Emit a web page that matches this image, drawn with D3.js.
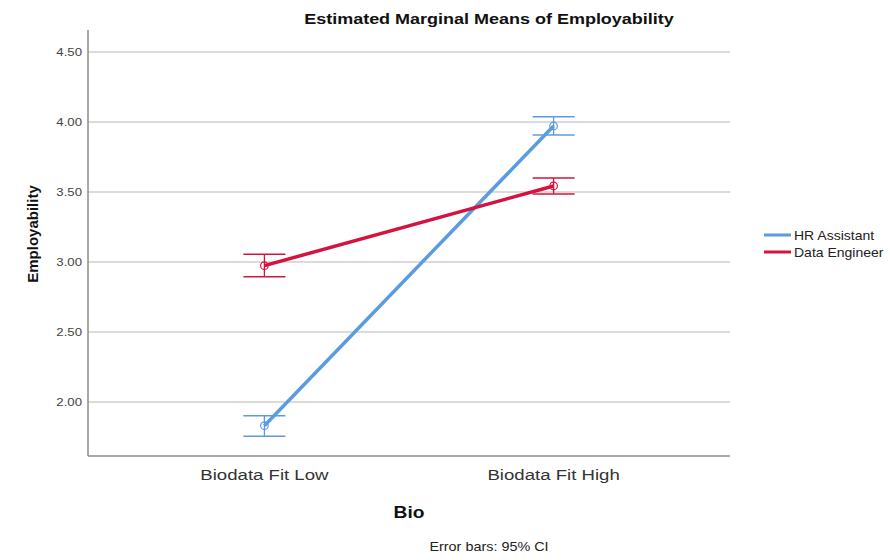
<!DOCTYPE html>
<html>
<head>
<meta charset="utf-8">
<script src="https://cdn.jsdelivr.net/npm/d3@7"></script>
<style>
  body { margin: 0; background: #fff; }
  text { font-family: "Liberation Sans", Arial, sans-serif; }
</style>
</head>
<body>
<script>
// values
var categories = ["Biodata Fit Low", "Biodata Fit High"];
var seriesNames = ["HR Assistant", "Data Engineer"];
var hrMean = [1.831, 3.972];
var hrLow = [1.755, 3.907];
var hrHigh = [1.902, 4.038];
var deMean = [2.974, 3.543];
var deLow = [2.895, 3.486];
var deHigh = [3.055, 3.600];
var yTicks = [2.0, 2.5, 3.0, 3.5, 4.0, 4.5];
var colors = ["#5b9be0", "#d2143f"];

var width = 890, height = 560;
var plotLeft = 88, plotRight = 730, plotTop = 30, plotBottom = 456;
var sx = 1.2; // text in the reference is a bit wide

var svg = d3.select("body").append("svg")
    .attr("width", width)
    .attr("height", height);

var x = d3.scalePoint()
    .domain(categories)
    .range([plotLeft, plotRight])
    .padding(0.61);

var y = d3.scaleLinear()
    .domain([2 - 54 / 140, 2 + 372 / 140])
    .range([plotBottom, plotTop]);

function wideText(px, py, k) {
    return "translate(" + px + "," + py + ") scale(" + (k || sx) + ",1)";
}

// gridlines
svg.selectAll("line.grid")
    .data(yTicks)
    .enter().append("line")
    .attr("class", "grid")
    .attr("x1", plotLeft)
    .attr("x2", plotRight)
    .attr("y1", function(d) { return y(d); })
    .attr("y2", function(d) { return y(d); })
    .attr("stroke", "#cfcfcf")
    .attr("stroke-width", 1.5);

// y tick labels
svg.selectAll("text.ytick")
    .data(yTicks)
    .enter().append("text")
    .attr("class", "ytick")
    .attr("transform", function(d) { return wideText(plotLeft - 6, y(d) + 4); })
    .attr("text-anchor", "end")
    .attr("font-size", 11)
    .attr("fill", "#444")
    .text(function(d) { return d.toFixed(2); });

// axis lines
svg.append("line")
    .attr("x1", plotLeft).attr("x2", plotLeft)
    .attr("y1", plotTop).attr("y2", plotBottom)
    .attr("stroke", "#8c8c8c").attr("stroke-width", 1.5);
svg.append("line")
    .attr("x1", plotLeft).attr("x2", plotRight)
    .attr("y1", plotBottom).attr("y2", plotBottom)
    .attr("stroke", "#8c8c8c").attr("stroke-width", 1.5);

// x tick labels
svg.selectAll("text.xtick")
    .data(categories)
    .enter().append("text")
    .attr("class", "xtick")
    .attr("transform", function(d) { return wideText(x(d), 480); })
    .attr("text-anchor", "middle")
    .attr("font-size", 15.5)
    .attr("fill", "#333")
    .text(function(d) { return d; });

var series = [
    { name: seriesNames[0], mean: hrMean, lo: hrLow, hi: hrHigh, color: colors[0] },
    { name: seriesNames[1], mean: deMean, lo: deLow, hi: deHigh, color: colors[1] }
];

var line = d3.line()
    .x(function(d, i) { return x(categories[i]); })
    .y(function(d) { return y(d); });

var capW = 21;

series.forEach(function(s) {
    var g = svg.append("g");
    categories.forEach(function(c, i) {
        var cx = x(c);
        g.append("line")
            .attr("x1", cx).attr("x2", cx)
            .attr("y1", y(s.lo[i])).attr("y2", y(s.hi[i]))
            .attr("stroke", s.color).attr("stroke-width", 1.3);
        [s.lo[i], s.hi[i]].forEach(function(v) {
            g.append("line")
                .attr("x1", cx - capW).attr("x2", cx + capW)
                .attr("y1", y(v)).attr("y2", y(v))
                .attr("stroke", s.color).attr("stroke-width", 1.5);
        });
        g.append("circle")
            .attr("cx", cx).attr("cy", y(s.mean[i]))
            .attr("r", 3.8)
            .attr("fill", "none")
            .attr("stroke", s.color)
            .attr("stroke-width", 1.2);
    });
    g.append("path")
        .datum(s.mean)
        .attr("d", line)
        .attr("fill", "none")
        .attr("stroke", s.color)
        .attr("stroke-width", 3.5);
});

// legend
var legend = svg.selectAll("g.legend")
    .data(series)
    .enter().append("g")
    .attr("class", "legend")
    .attr("transform", function(d, i) { return "translate(764," + (235 + i * 17) + ")"; });
legend.append("line")
    .attr("x1", 0).attr("x2", 27)
    .attr("stroke", function(d) { return d.color; })
    .attr("stroke-width", 3);
legend.append("text")
    .attr("transform", wideText(30, 5, 1.12))
    .attr("font-size", 12.5)
    .attr("fill", "#222")
    .text(function(d) { return d.name; });

// titles
svg.append("text")
    .attr("transform", wideText(489, 24))
    .attr("text-anchor", "middle")
    .attr("font-size", 15)
    .attr("font-weight", "bold")
    .attr("fill", "#111")
    .text("Estimated Marginal Means of Employability");

svg.append("text")
    .attr("transform", "translate(38,234) rotate(-90)")
    .attr("text-anchor", "middle")
    .attr("font-size", 15)
    .attr("font-weight", "bold")
    .attr("fill", "#111")
    .text("Employability");

svg.append("text")
    .attr("transform", wideText(409, 518))
    .attr("text-anchor", "middle")
    .attr("font-size", 16)
    .attr("font-weight", "bold")
    .attr("fill", "#111")
    .text("Bio");

svg.append("text")
    .attr("transform", wideText(489, 551))
    .attr("text-anchor", "middle")
    .attr("font-size", 12)
    .attr("fill", "#222")
    .text("Error bars: 95% CI");
</script>
</body>
</html>
